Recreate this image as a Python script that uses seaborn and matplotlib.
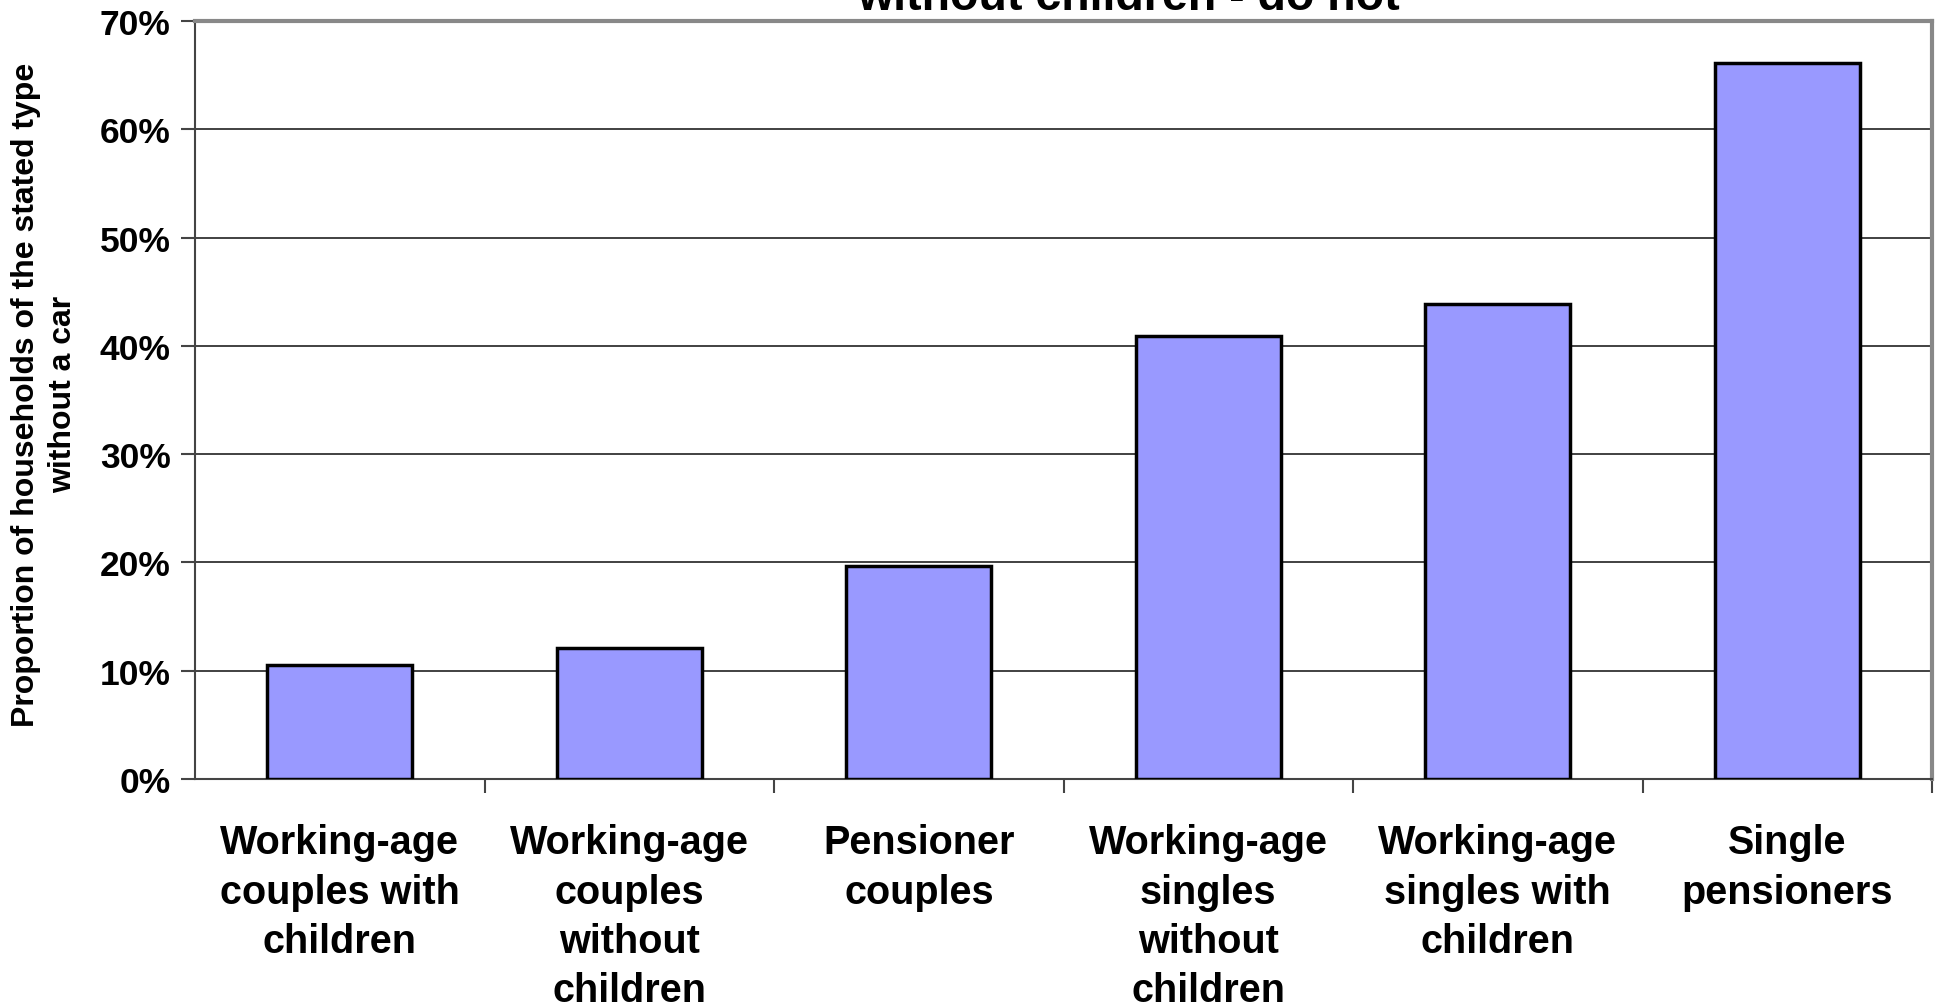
import numpy as np
import pandas as pd
import seaborn as sns
sns.set_theme(style="white")
import matplotlib.pyplot as plt
from matplotlib.ticker import FuncFormatter, FixedLocator

plt.rcParams['font.family'] = ['Liberation Sans', 'DejaVu Sans']
plt.rcParams['font.weight'] = 'bold'
plt.rcParams['text.color'] = 'black'
plt.rcParams['xtick.color'] = 'black'
plt.rcParams['ytick.color'] = 'black'

categories = [
    'Working-age\ncouples with\nchildren',
    'Working-age\ncouples\nwithout\nchildren',
    'Pensioner\ncouples',
    'Working-age\nsingles\nwithout\nchildren',
    'Working-age\nsingles with\nchildren',
    'Single\npensioners',
]
no_car_pct = [10.5, 12.1, 19.7, 40.9, 43.9, 66.1]
y_ticks = [0, 10, 20, 30, 40, 50, 60, 70]

df = pd.DataFrame({'household': categories, 'no_car': no_car_pct})

fig = plt.figure(figsize=(19.35, 10.04), dpi=100)
ax = fig.add_axes([0.1008, 0.2231, 0.8977, 0.7549])

sns.barplot(data=df, x='household', y='no_car', color='#9999FF', saturation=1,
            width=0.5, edgecolor='black', linewidth=2.5, ax=ax, zorder=3)

ax.set_xlim(-0.5, len(categories) - 0.5)
ax.set_ylim(0, 70)
ax.set_yticks(y_ticks)
ax.yaxis.set_major_formatter(FuncFormatter(lambda v, p: f"{v:.0f}%"))
ax.yaxis.grid(True, color='#333333', linewidth=1.3, zorder=0)
ax.set_axisbelow(True)

# tick marks at category boundaries, labels at centres
ax.xaxis.set_minor_locator(FixedLocator(np.arange(0.5, len(categories), 1.0)))
ax.tick_params(axis='x', which='major', length=0, pad=32, labelsize=28.5)
ax.tick_params(axis='x', which='minor', length=10, width=1.5, color='#444444', bottom=True)
ax.tick_params(axis='y', which='major', length=10, width=1.5, color='#444444', left=True,
               pad=7.5, labelsize=25.5)
for lbl in ax.get_xticklabels():
    lbl.set_fontweight('bold')
    lbl.set_linespacing(1.37)
for lbl in ax.get_yticklabels():
    lbl.set_fontweight('bold')

for side in ['top', 'right']:
    ax.spines[side].set_color('#888888')
    ax.spines[side].set_linewidth(3)
for side in ['left', 'bottom']:
    ax.spines[side].set_color('#444444')
    ax.spines[side].set_linewidth(1.5)

ax.set_xlabel('')
ax.set_ylabel('')
fig.text(0.023, 0.607, 'Proportion of households of the stated type\nwithout a car',
         rotation=90, ha='center', va='center', fontsize=23, fontweight='bold',
         linespacing=1.3, multialignment='center')
fig.text(0.583, 0.990, 'without children - do not', ha='center', va='baseline',
         fontsize=33.5, fontweight='bold')

fig.savefig('out.png', dpi=100)
